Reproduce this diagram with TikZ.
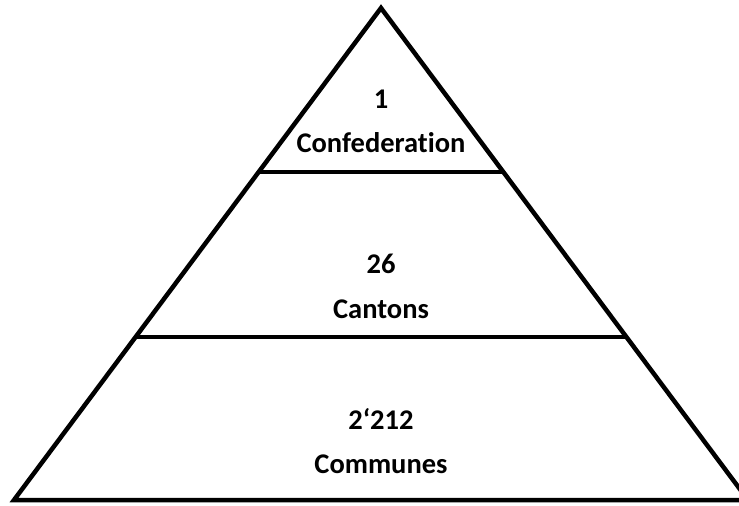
\documentclass[tikz,border=0pt]{standalone}
\usepackage{fontspec}
\setmainfont{Carlito}[Ligatures={TeX,NoCommon}]
\usetikzlibrary{calc}

\begin{document}
\begin{tikzpicture}[x=1pt,y=-1pt]
\tikzstyle{every node}=[font=\bfseries\fontsize{28.5}{34}\selectfont,inner sep=0pt,anchor=base]
\tikzstyle{pyr}=[line width=4.5pt,line join=miter]
\useasboundingbox (0,0) rectangle (739,506);
\clip (0,0) rectangle (739,506);
\coordinate (apex) at (381,8);
\coordinate (bl) at (14,500);
\coordinate (br) at (748,500);
\coordinate (l1) at ($(apex)!1/3!(bl)$);
\coordinate (r1) at ($(apex)!1/3!(br)$);
\coordinate (l2) at ($(apex)!0.669!(bl)$);
\coordinate (r2) at ($(apex)!0.669!(br)$);
\draw[pyr] (apex) -- (bl) -- (br) -- cycle;
\draw[pyr] (l1) -- (r1);
\draw[pyr] (l2) -- (r2);
\node (conf) at (381,108) {1};
\node (confname) at (381,152) {Confederation};
\node (cant) at (381,273) {26};
\node (cantname) at (381,318) {Cantons};
\node (comm) at (381,429) {2‘212};
\node (commname) at (381,473) {Communes};
\end{tikzpicture}
\end{document}
